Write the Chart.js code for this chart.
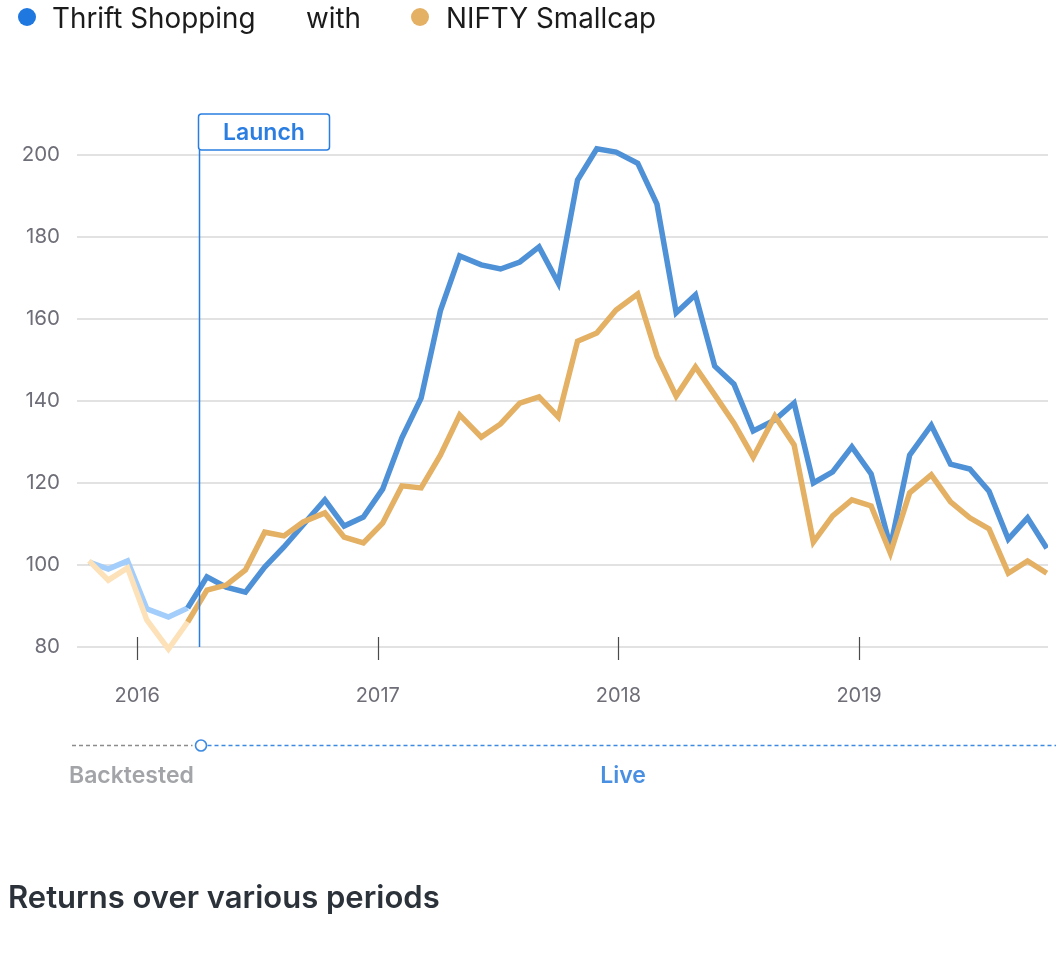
<!DOCTYPE html>
<html>
<head>
<meta charset="utf-8">
<script src="https://cdn.jsdelivr.net/npm/chart.js@4.4.1/dist/chart.umd.min.js"></script>
<style>
  html, body { margin: 0; padding: 0; background: #fff; width: 1060px; height: 959px; overflow: hidden; }
  #wrap { position: absolute; left: 0; top: 0; width: 1060px; height: 959px; }
  canvas { position: absolute; left: 0; top: 0; }
  .legend { position: absolute; top: 0; left: 0; height: 36px; font-family: Inter, "Noto Sans", sans-serif; font-size: 27.8px; color: #1b1b1b; }
  .legend span { position: absolute; top: 2px; white-space: nowrap; line-height: 32px; }
  .dot { position: absolute; width: 18px; height: 18px; border-radius: 50%; top: 8px; }
  .heading { position: absolute; left: 8px; top: 878px; font-family: Inter, "Noto Sans", sans-serif; font-size: 31px; font-weight: 600; color: #2c323a; white-space: nowrap; line-height: 38px; }
</style>
</head>
<body>
<div id="wrap">
  <canvas id="c" width="1060" height="959"></canvas>
  <div class="legend">
    <div class="dot" style="left:18px; background:#1f78e0;"></div>
    <span style="left:52px;">Thrift Shopping</span>
    <span style="left:306px;">with</span>
    <div class="dot" style="left:411px; background:#e3b064;"></div>
    <span style="left:446px;">NIFTY Smallcap</span>
  </div>
  <div class="heading">Returns over various periods</div>
</div>
<script>
// ---- data ----
const dates = [
  2015.80, 2015.88, 2015.96, 2016.04, 2016.13, 2016.21, 2016.29, 2016.37, 2016.45, 2016.53,
  2016.61, 2016.69, 2016.78, 2016.86, 2016.94, 2017.02, 2017.10, 2017.18, 2017.26, 2017.34,
  2017.43, 2017.51, 2017.59, 2017.67, 2017.75, 2017.83, 2017.91, 2017.99, 2018.08, 2018.16,
  2018.24, 2018.32, 2018.40, 2018.48, 2018.56, 2018.65, 2018.73, 2018.81, 2018.89, 2018.97,
  2019.05, 2019.13, 2019.21, 2019.30, 2019.38, 2019.46, 2019.54, 2019.62, 2019.70, 2019.78
];
const thriftShopping = [
  100.7, 99.0, 101.0, 89.3, 87.3, 89.5, 97.1, 94.6, 93.4, 99.5,
  104.4, 109.8, 115.9, 109.5, 111.7, 118.5, 131.0, 140.7, 162.0, 175.4,
  173.2, 172.2, 173.9, 177.6, 168.8, 193.9, 201.5, 200.7, 198.0, 188.0,
  161.5, 165.9, 148.5, 144.1, 132.7, 135.4, 139.5, 120.0, 122.7, 128.8,
  122.2, 104.4, 126.8, 134.1, 124.6, 123.4, 118.0, 106.3, 111.5, 104.1
];
const niftySmallcap = [
  101.0, 96.3, 99.3, 86.6, 79.5, 86.1, 93.9, 95.1, 98.8, 108.0,
  107.1, 110.5, 112.7, 106.8, 105.4, 110.2, 119.3, 118.8, 126.8, 136.6,
  131.2, 134.4, 139.5, 141.0, 136.1, 154.6, 156.6, 162.2, 166.1, 151.0,
  141.2, 148.3, 141.5, 134.6, 126.3, 136.3, 129.3, 105.6, 112.0, 115.9,
  114.4, 102.9, 117.6, 122.0, 115.4, 111.5, 108.8, 98.0, 101.0, 98.0
];
const yearTicks = [2016, 2017, 2018, 2019];
const valueTicks = [80, 100, 120, 140, 160, 180, 200];
const launchDate = 2016.26;

const BLUE = '#4f91d6', BLUE_LIGHT = '#a3cdfa';
const ORANGE = '#e3b064', ORANGE_LIGHT = '#fde1b8';

function pts(vals) { return vals.map((v, i) => ({ x: dates[i], y: v })); }

const extras = {
  id: 'extras',
  afterDatasetsDraw(chart) {
    const ctx = chart.ctx;
    const xs = chart.scales.x, ys = chart.scales.y;
    const base = ys.getPixelForValue(valueTicks[0]);
    ctx.save();
    // year tick marks
    ctx.strokeStyle = '#4a4a4a';
    ctx.lineWidth = 1.2;
    yearTicks.forEach(t => {
      const x = Math.round(xs.getPixelForValue(t)) + 0.5;
      ctx.beginPath(); ctx.moveTo(x, base - 10); ctx.lineTo(x, base + 13); ctx.stroke();
    });
    // launch line
    const lx = Math.round(xs.getPixelForValue(launchDate)) - 0.5;
    ctx.strokeStyle = '#2a7de1';
    ctx.lineWidth = 1.5;
    ctx.beginPath(); ctx.moveTo(lx, 150); ctx.lineTo(lx, base); ctx.stroke();
    // launch box
    const bx = lx - 1, by = 114, bw = 131, bh = 36, r = 3;
    ctx.beginPath();
    ctx.moveTo(bx + r, by); ctx.lineTo(bx + bw - r, by); ctx.quadraticCurveTo(bx + bw, by, bx + bw, by + r);
    ctx.lineTo(bx + bw, by + bh - r); ctx.quadraticCurveTo(bx + bw, by + bh, bx + bw - r, by + bh);
    ctx.lineTo(bx + r, by + bh); ctx.quadraticCurveTo(bx, by + bh, bx, by + bh - r);
    ctx.lineTo(bx, by + r); ctx.quadraticCurveTo(bx, by, bx + r, by);
    ctx.closePath();
    ctx.fillStyle = '#fff'; ctx.fill();
    ctx.strokeStyle = '#2a7de1'; ctx.lineWidth = 1.5; ctx.stroke();
    ctx.fillStyle = '#2a7de1';
    ctx.font = '600 23px Inter, "Noto Sans", sans-serif';
    ctx.textAlign = 'center'; ctx.textBaseline = 'middle';
    ctx.fillText('Launch', bx + bw / 2, by + bh / 2 + 1);
    // timeline
    const ty = 745.5;
    ctx.lineWidth = 1.5;
    ctx.setLineDash([4, 3]);
    ctx.strokeStyle = '#8c8c8c';
    ctx.beginPath(); ctx.moveTo(72, ty); ctx.lineTo(lx - 7, ty); ctx.stroke();
    ctx.strokeStyle = '#3d8ae3';
    ctx.beginPath(); ctx.moveTo(lx + 8, ty); ctx.lineTo(1056, ty); ctx.stroke();
    ctx.setLineDash([]);
    ctx.beginPath(); ctx.arc(lx + 1.5, ty, 5.5, 0, Math.PI * 2);
    ctx.fillStyle = '#fff'; ctx.fill();
    ctx.strokeStyle = '#3d8ae3'; ctx.lineWidth = 1.6; ctx.stroke();
    // labels
    ctx.font = '600 23px Inter, "Noto Sans", sans-serif';
    ctx.textBaseline = 'alphabetic';
    ctx.textAlign = 'left';
    ctx.fillStyle = '#a2a4a8';
    ctx.fillText('Backtested', 69, 783);
    ctx.textAlign = 'center';
    ctx.fillStyle = '#4a90e2';
    ctx.fillText('Live', 623, 783);
    ctx.restore();
  }
};

new Chart(document.getElementById('c'), {
  type: 'line',
  data: {
    datasets: [
      {
        label: 'NIFTY Smallcap',
        data: pts(niftySmallcap),
        borderColor: ORANGE,
        borderWidth: 5.5,
        pointRadius: 0,
        tension: 0,
        order: 0,
        segment: { borderColor: c => c.p1.parsed.x <= launchDate ? ORANGE_LIGHT : ORANGE }
      },
      {
        label: 'Thrift Shopping',
        data: pts(thriftShopping),
        borderColor: BLUE,
        borderWidth: 5.5,
        pointRadius: 0,
        tension: 0,
        order: 1,
        segment: { borderColor: c => c.p1.parsed.x <= launchDate ? BLUE_LIGHT : BLUE }
      }
    ]
  },
  options: {
    responsive: false,
    animation: false,
    events: [],
    layout: { padding: { top: 138.6, right: 12, bottom: 253.8, left: 0 } },
    plugins: { legend: { display: false }, tooltip: { enabled: false } },
    scales: {
      x: {
        type: 'linear',
        min: 2015.75,
        max: 2019.785,
        afterBuildTicks: s => { s.ticks = yearTicks.map(v => ({ value: v })); },
        afterFit: s => { s.height = 50; },
        grid: { display: false },
        border: { display: false },
        ticks: {
          padding: 21,
          color: '#6e6e78',
          font: { family: 'Inter, "Noto Sans", sans-serif', size: 20 },
          callback: v => String(v),
          maxRotation: 0
        }
      },
      y: {
        min: 78,
        max: 204,
        afterBuildTicks: s => { s.ticks = valueTicks.map(v => ({ value: v })); },
        afterFit: s => { s.width = 77; },
        grid: { color: '#e2e2e2', lineWidth: 2, drawTicks: false },
        border: { display: false },
        ticks: {
          padding: 17,
          color: '#6e6e78',
          font: { family: 'Inter, "Noto Sans", sans-serif', size: 20.5 },
          callback: v => String(v)
        }
      }
    }
  },
  plugins: [extras]
});
</script>
</body>
</html>
